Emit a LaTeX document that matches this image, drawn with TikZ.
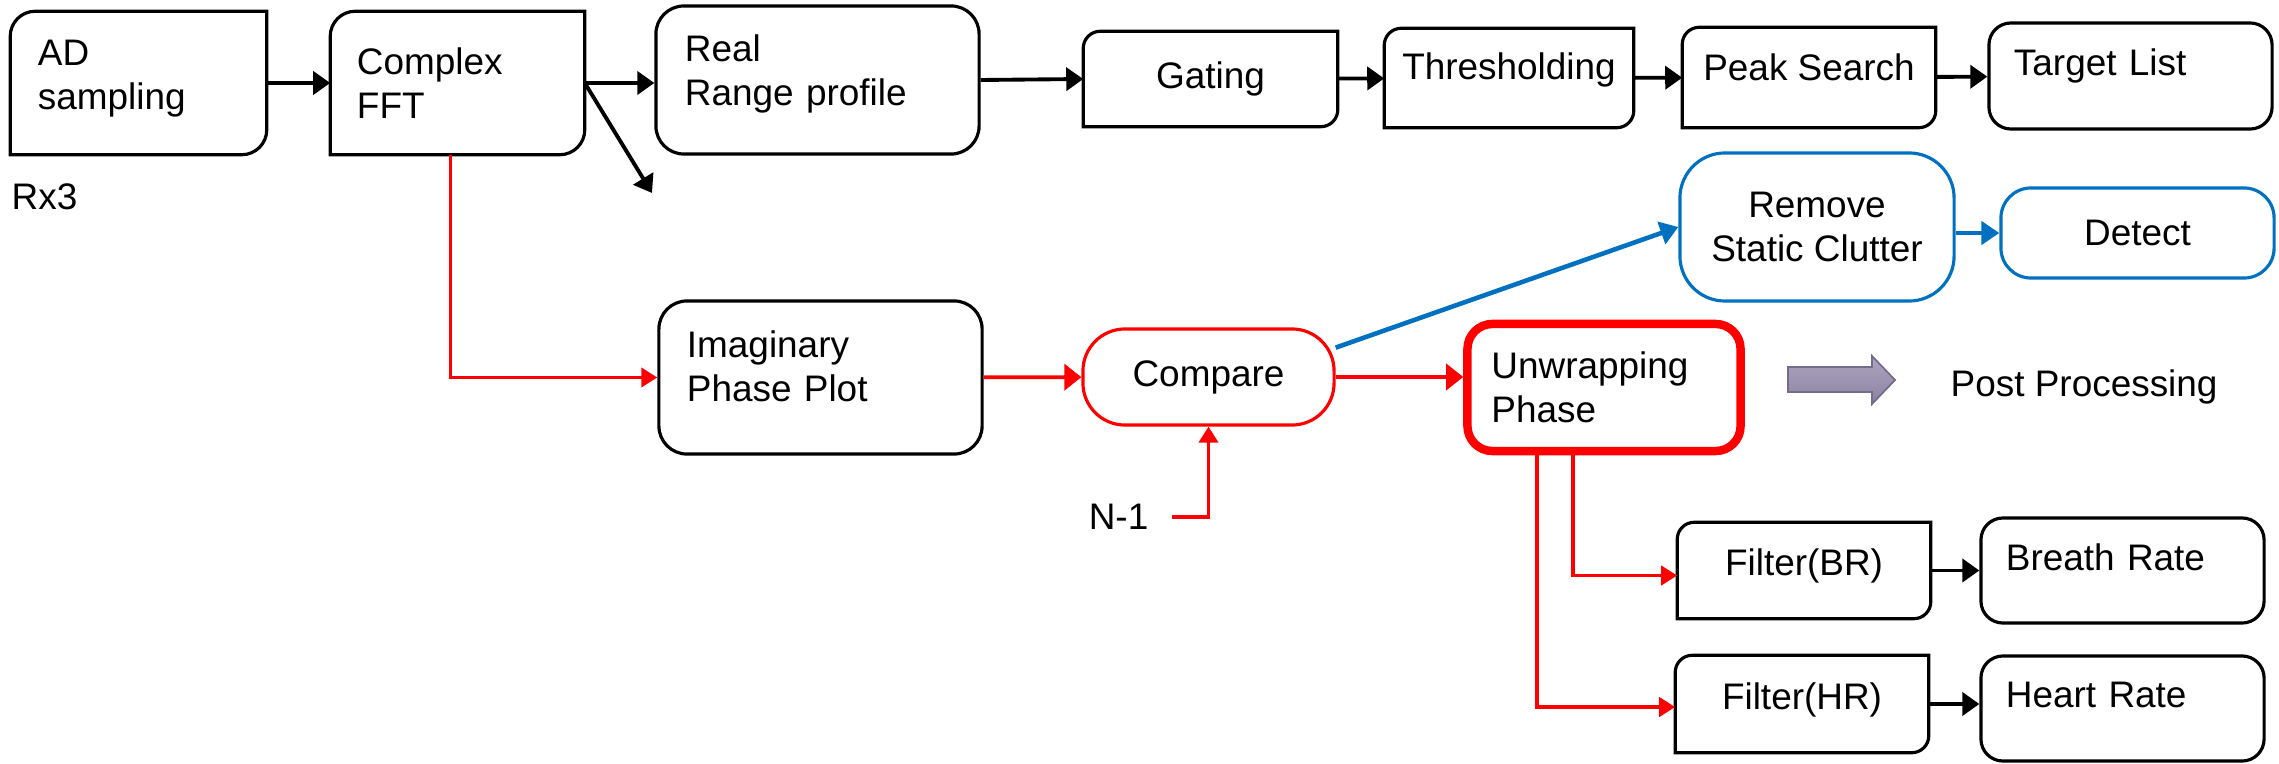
\documentclass[tikz,border=0pt]{standalone}
\usepackage{fontspec}
\setmainfont{Liberation Sans}
\usetikzlibrary{arrows.meta}

\definecolor{clutterblue}{RGB}{0,112,192}
\definecolor{fattop}{RGB}{172,165,192}
\definecolor{fatbottom}{RGB}{140,131,160}
\definecolor{fatline}{RGB}{116,108,140}

% frame with only the top left and bottom right corners rounded
\newcommand{\cutframe}[2]{%
  \draw[line width=0.9pt] (#1.north east) -- ([yshift=#2]#1.south east)
    arc[start angle=0, end angle=-90, radius=#2] -- (#1.south west)
    -- ([yshift=-#2]#1.north west)
    arc[start angle=180, end angle=90, radius=#2] -- cycle;}

\tikzset{
  every node/.style={font=\fontsize{10.5}{12.5}\selectfont},
  box/.style={draw, line width=0.9pt, rounded corners=0.28cm, inner ysep=0pt},
  cutbox/.style={inner ysep=0pt},
  bluebox/.style={draw=clutterblue, line width=0.9pt, inner sep=0pt, align=center},
  flow/.style={-{Triangle[length=0.17cm,width=0.23cm]}, line width=1.1pt},
  redflow/.style={-{Triangle[length=0.16cm,width=0.19cm]}, line width=1.1pt, red},
  bigred/.style={redflow, -{Triangle[length=0.17cm,width=0.26cm]}},
  blueflow/.style={-{Triangle[length=0.18cm,width=0.23cm]}, line width=1.3pt, clutterblue}
}

\begin{document}
\begin{tikzpicture}[x=0.01cm, y=-0.01cm]
  \useasboundingbox (0,0) rectangle (2279,764);

  % top row
  \node[cutbox, text width=2.01cm, inner xsep=0.27cm, minimum height=1.42cm, align=left, text depth=0.6cm] (ad) at (138.5,83) {AD\\sampling};
  \node[cutbox, text width=2.01cm, inner xsep=0.26cm, minimum height=1.42cm, align=left] (fft) at (457.5,83) {Complex\\FFT};
  \node[box, text width=2.65cm, inner xsep=0.29cm, minimum height=1.48cm, align=left, text depth=0.64cm] (real) at (817.5,80) {Real\\Range profile};
  \node[cutbox, minimum width=2.53cm, minimum height=0.94cm, inner xsep=0pt] (gating) at (1210.5,79) {Gating};
  \node[cutbox, minimum width=2.48cm, minimum height=0.98cm, inner xsep=0pt, text depth=0.23cm] (thresh) at (1509,78) {Thresholding};
  \node[cutbox, minimum width=2.52cm, minimum height=0.99cm, inner xsep=0pt, text depth=0.21cm] (peak) at (1809,77.5) {Peak Search};
  \node[box, rounded corners=0.22cm, text width=2.33cm, inner xsep=0.25cm, minimum height=1.06cm, align=left, text depth=0.27cm] (target) at (2130.5,76) {Target List};
  \node[anchor=west, inner sep=0pt] (rx) at (11,197) {Rx3};

  % clutter branch
  \node[bluebox, rounded corners=0.45cm, minimum width=2.74cm, minimum height=1.48cm] (remove) at (1817,227) {Remove\\Static Clutter};
  \node[bluebox, rounded corners=0.3cm, minimum width=2.73cm, minimum height=0.9cm] (detect) at (2137.5,233) {Detect};

  % phase branch
  \node[box, text width=2.67cm, inner xsep=0.28cm, minimum height=1.53cm, align=left, text depth=0.67cm] (imag) at (820.5,377.5) {Imaginary\\Phase Plot};
  \node[draw=red, line width=0.9pt, rounded corners=0.42cm, minimum width=2.51cm, minimum height=0.96cm, inner sep=0pt] (compare) at (1208.5,377) {Compare};
  \node[anchor=east, inner sep=0pt] (nm1) at (1149,517) {N-1};
  \node[draw=red, line width=2.4pt, rounded corners=0.25cm, text width=2.25cm, inner xsep=0.24cm, minimum height=1.27cm, inner ysep=0pt, align=left] (unwrap) at (1604,387.5) {Unwrapping\\Phase};
  \shade[top color=fattop, bottom color=fatbottom, draw=fatline, line width=0.5pt]
    (1788,367) -- (1872,367) -- (1872,356) -- (1895,380) -- (1872,404) -- (1872,392) -- (1788,392) -- cycle;
  \node[anchor=west, inner sep=0pt] (post) at (1950,387) {Post Processing};

  \node[cutbox, minimum width=2.52cm, minimum height=0.95cm, inner xsep=0pt, text depth=0.16cm] (filterbr) at (1804,570.5) {Filter(BR)};
  \node[box, rounded corners=0.22cm, text width=2.33cm, inner xsep=0.25cm, minimum height=1.05cm, align=left, text depth=0.27cm] (breath) at (2122.5,570.5) {Breath Rate};
  \node[cutbox, minimum width=2.52cm, minimum height=0.96cm, inner xsep=0pt, text depth=0.16cm] (filterhr) at (1802,704) {Filter(HR)};
  \node[box, rounded corners=0.22cm, text width=2.33cm, inner xsep=0.25cm, minimum height=1.05cm, align=left, text depth=0.27cm] (heart) at (2122.5,708.5) {Heart Rate};

  \cutframe{ad}{0.25cm}
  \cutframe{fft}{0.25cm}
  \cutframe{gating}{0.17cm}
  \cutframe{thresh}{0.17cm}
  \cutframe{peak}{0.17cm}
  \cutframe{filterbr}{0.17cm}
  \cutframe{filterhr}{0.17cm}

  \coordinate (fftout) at (652,193);

  \draw[flow] (ad) -- (fft);
  \draw[flow] (fft.east) -- (fft.east -| real.west);
  \draw[flow] (fft.east) -- (fftout);
  \draw[flow] (real.east) -- (gating.west);
  \draw[flow] (gating) -- (thresh);
  \draw[flow] (thresh) -- (peak);
  \draw[flow] (peak) -- (target);

  \draw[redflow] ([xshift=-0.07cm]fft.south) |- (imag.west);
  \draw[bigred] (imag) -- (compare);
  \draw[bigred] (compare.east) -- (compare.east -| unwrap.west);
  \draw[redflow] ([xshift=0.23cm]nm1.east) -| (compare.south);
  \draw[redflow] ([xshift=-0.31cm]unwrap.south) |- ([yshift=-0.05cm]filterbr.west);
  \draw[redflow] ([xshift=-0.67cm]unwrap.south) |- ([yshift=-0.03cm]filterhr.west);

  \draw[blueflow] (compare.13) -- (remove.west);
  \draw[blueflow] (remove.east |- detect.west) -- (detect.west);

  \draw[flow] (filterbr) -- (breath);
  \draw[flow] (filterhr.east) -- (filterhr.east -| heart.west);
\end{tikzpicture}
\end{document}
